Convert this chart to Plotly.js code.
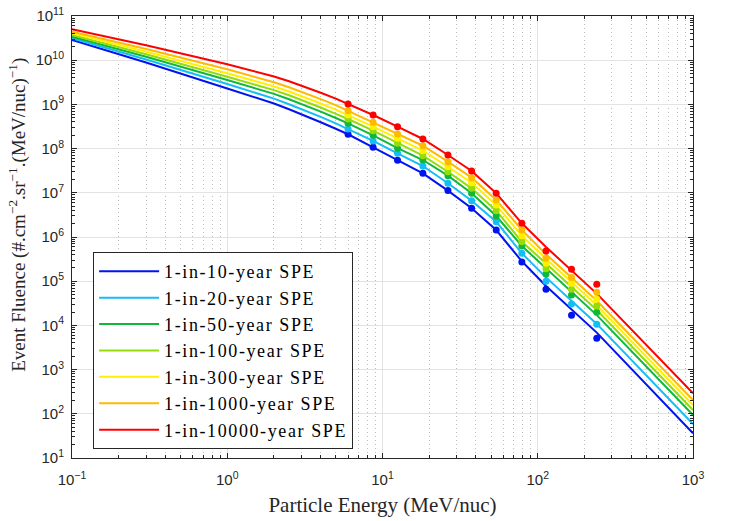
<!DOCTYPE html>
<html>
<head>
<meta charset="utf-8">
<script src="https://cdn.plot.ly/plotly-3.0.1.min.js"></script>
<style>
  html, body { margin: 0; padding: 0; background: #fff; }
  #chart { width: 729px; height: 521px; }
  text.legendtext { letter-spacing: 1.6px; }
</style>
</head>
<body>
<div id="chart"></div>
<script>
// energies (MeV/nuc) for the fitted spectra and for the event points
const lineEnergy = [0.1, 0.3, 1, 1.5, 2, 2.5, 3, 4, 5, 6, 8.7, 12.5, 18.2, 26.4, 37.5, 54, 79, 113, 165, 240, 1000];
const dotEnergy = [6, 8.7, 12.5, 18.2, 26.4, 37.5, 54, 79, 113, 165, 240];

const seriesNames = [
  "1-in-10-year SPE", "1-in-20-year SPE", "1-in-50-year SPE", "1-in-100-year SPE",
  "1-in-300-year SPE", "1-in-1000-year SPE", "1-in-10000-year SPE"
];
const seriesColors = ["#0014f0", "#14bdf5", "#10b83a", "#96dc0a", "#fff000", "#ffba00", "#ff0000"];

// fitted spectra
const fit10 = [2.86e10, 8.91e9, 2.29e9, 1.46e9, 1.05e9, 7.76e8, 6.05e8, 3.95e8, 2.81e8, 2.11e8, 1.07e8, 5.43e7, 2.76e7, 1.12e7, 4.46e6, 1.44e6, 2.82e5, 7.78e4, 2.33e4, 6.87e3, 36.2];
const fit20 = [3.13e10, 1.04e10, 2.90e9, 1.87e9, 1.35e9, 1.01e9, 7.91e8, 5.21e8, 3.73e8, 2.77e8, 1.49e8, 7.83e7, 4.04e7, 1.64e7, 6.62e6, 2.22e6, 4.28e5, 1.22e5, 3.66e4, 1.08e4, 58.7];
const fit50 = [3.40e10, 1.20e10, 3.56e9, 2.37e9, 1.73e9, 1.31e9, 1.03e9, 6.84e8, 4.92e8, 3.73e8, 2.00e8, 1.02e8, 5.52e7, 2.44e7, 9.75e6, 2.99e6, 6.25e5, 1.94e5, 5.78e4, 1.71e4, 94];
const fit100 = [3.72e10, 1.36e10, 4.24e9, 2.86e9, 2.10e9, 1.61e9, 1.27e9, 8.49e8, 6.12e8, 4.68e8, 2.54e8, 1.32e8, 6.90e7, 3.00e7, 1.26e7, 3.94e6, 7.83e5, 2.51e5, 7.52e4, 2.22e4, 122];
const fit300 = [4.06e10, 1.56e10, 5.06e9, 3.44e9, 2.55e9, 1.96e9, 1.55e9, 1.05e9, 7.59e8, 5.75e8, 3.13e8, 1.71e8, 8.97e7, 3.89e7, 1.69e7, 5.30e6, 1.07e6, 3.23e5, 9.64e4, 2.85e4, 158];
const fit1000 = [4.42e10, 1.79e10, 6.22e9, 4.23e9, 3.16e9, 2.44e9, 1.95e9, 1.32e9, 9.64e8, 7.19e8, 3.94e8, 2.14e8, 1.16e8, 5.06e7, 2.20e7, 6.87e6, 1.44e6, 4.08e5, 1.22e5, 3.61e4, 205];
const fit10000 = [5.00e10, 2.17e10, 8.07e9, 5.65e9, 4.27e9, 3.35e9, 2.68e9, 1.84e9, 1.35e9, 1.02e9, 5.75e8, 3.13e8, 1.65e8, 7.16e7, 3.11e7, 9.75e6, 2.04e6, 5.94e5, 1.77e5, 5.24e4, 291];

// event points
const obs10 = [2.11e8, 1.07e8, 5.43e7, 2.76e7, 1.12e7, 4.46e6, 1.44e6, 2.72e5, 6.56e4, 1.69e4, 5.11e3];
const obs20 = [2.77e8, 1.49e8, 7.83e7, 4.04e7, 1.64e7, 6.62e6, 2.22e6, 4.28e5, 9.95e4, 3.05e4, 1.06e4];
const obs50 = [3.73e8, 2.00e8, 1.02e8, 5.52e7, 2.44e7, 9.75e6, 2.99e6, 6.25e5, 1.46e5, 4.88e4, 1.98e4];
const obs100 = [4.68e8, 2.54e8, 1.32e8, 6.90e7, 3.00e7, 1.26e7, 3.94e6, 7.83e5, 1.92e5, 6.56e4, 2.75e4];
const obs300 = [5.75e8, 3.13e8, 1.71e8, 8.97e7, 3.89e7, 1.69e7, 5.30e6, 1.07e6, 2.54e5, 8.95e4, 3.95e4];
const obs1000 = [7.19e8, 3.94e8, 2.14e8, 1.16e8, 5.06e7, 2.20e7, 6.87e6, 1.44e6, 3.30e5, 1.22e5, 5.61e4];
const obs10000 = [1.02e9, 5.75e8, 3.13e8, 1.65e8, 7.16e7, 3.11e7, 9.75e6, 2.04e6, 4.82e5, 1.86e5, 8.49e4];

const xTickVals = [0.1, 1, 10, 100, 1000];
const xTickText = ["10<sup>−1</sup>", "10<sup>0</sup>", "10<sup>1</sup>", "10<sup>2</sup>", "10<sup>3</sup>"];
const yTickVals = [1e1, 1e2, 1e3, 1e4, 1e5, 1e6, 1e7, 1e8, 1e9, 1e10, 1e11];
const yTickText = ["10<sup>1</sup>", "10<sup>2</sup>", "10<sup>3</sup>", "10<sup>4</sup>", "10<sup>5</sup>", "10<sup>6</sup>",
  "10<sup>7</sup>", "10<sup>8</sup>", "10<sup>9</sup>", "10<sup>10</sup>", "10<sup>11</sup>"];

const fits = [fit10, fit20, fit50, fit100, fit300, fit1000, fit10000];
const obs = [obs10, obs20, obs50, obs100, obs300, obs1000, obs10000];

const serif = "Liberation Serif";
const sans = "Liberation Sans";
const ink = "#262626";

// minor tick positions 2..9 within each decade
function minorTicks(lo, hi) {
  const out = [];
  for (let e = lo; e < hi; e++) {
    for (let m = 2; m <= 9; m++) out.push(m * Math.pow(10, e));
  }
  return out;
}

const traces = [];
fits.forEach(function (f, i) {
  traces.push({
    x: lineEnergy, y: f, type: "scatter", mode: "lines",
    name: seriesNames[i],
    line: { color: seriesColors[i], width: 2 },
    hoverinfo: "skip"
  });
});
obs.forEach(function (o, i) {
  traces.push({
    x: dotEnergy, y: o, type: "scatter", mode: "markers",
    showlegend: false,
    marker: { color: seriesColors[i], size: 7 },
    hoverinfo: "skip"
  });
});

const axisCommon = {
  type: "log",
  tickmode: "array",
  ticks: "inside",
  ticklen: 5,
  tickwidth: 1,
  tickcolor: ink,
  showline: true,
  linecolor: ink,
  linewidth: 1,
  mirror: "ticks",
  showgrid: true,
  gridcolor: "#e3e3e3",
  gridwidth: 1,
  zeroline: false,
  tickfont: { family: sans, size: 15, color: ink }
};

const layout = {
  width: 729,
  height: 521,
  margin: { l: 72, r: 36, t: 16, b: 63 },
  paper_bgcolor: "#ffffff",
  plot_bgcolor: "#ffffff",
  showlegend: true,
  xaxis: Object.assign({}, axisCommon, {
    range: [-1, 3],
    tickvals: xTickVals,
    ticktext: xTickText,
    ticklabelstandoff: 8,
    minor: {
      tickmode: "array", tickvals: minorTicks(-1, 3),
      ticks: "inside", ticklen: 3, tickcolor: ink,
      showgrid: true, gridcolor: "#bdbdbd", griddash: "1px,3px", gridwidth: 1
    },
    title: {
      text: "Particle Energy (MeV/nuc)",
      font: { family: serif, size: 21, color: ink },
      standoff: 10
    }
  }),
  yaxis: Object.assign({}, axisCommon, {
    range: [1, 11],
    tickvals: yTickVals,
    ticktext: yTickText,
    ticklabelstandoff: 4,
    minor: {
      tickmode: "array", tickvals: minorTicks(1, 11),
      ticks: "inside", ticklen: 3, tickcolor: ink,
      showgrid: false
    }
  }),
  annotations: [{
    text: "Event Fluence (#.cm<sup>−2</sup>.sr<sup>−1</sup>.(MeV/nuc)<sup>−1</sup>)",
    xref: "paper", yref: "paper",
    x: -0.087, y: 0.55,
    xanchor: "center", yanchor: "middle",
    textangle: -90,
    showarrow: false,
    font: { family: serif, size: 19, color: ink }
  }],
  legend: {
    x: 0.034, y: 0.466, xanchor: "left", yanchor: "top",
    bgcolor: "#ffffff",
    bordercolor: ink,
    borderwidth: 1,
    itemwidth: 60,
    font: { family: serif, size: 18, color: "#000000" }
  }
};

Plotly.newPlot("chart", traces, layout, { staticPlot: true, displayModeBar: false });
</script>
</body>
</html>
